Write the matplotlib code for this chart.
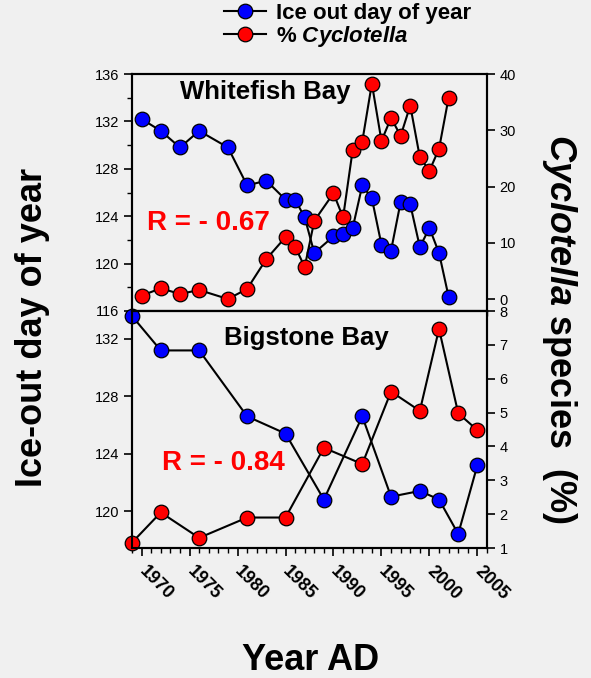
import matplotlib
matplotlib.use('Agg')
import matplotlib.pyplot as plt
from matplotlib.lines import Line2D
from matplotlib.ticker import MultipleLocator, FixedLocator

plt.rcParams['font.family'] = ['Liberation Sans', 'DejaVu Sans']
plt.rcParams['mathtext.fontset'] = 'custom'
plt.rcParams['mathtext.rm'] = 'Liberation Sans'
plt.rcParams['mathtext.it'] = 'Liberation Sans:italic'
plt.rcParams['mathtext.bf'] = 'Liberation Sans:bold'
plt.rcParams['mathtext.bfit'] = 'Liberation Sans:bold:italic'

# ---------------- data ----------------
wf_years = [1970, 1972, 1974, 1976, 1979, 1981, 1983, 1985, 1986, 1987, 1988, 1990,
            1991, 1992, 1993, 1994, 1995, 1996, 1997, 1998, 1999, 2000, 2001, 2002]
wf_iceout = [132.2, 131.2, 129.8, 131.2, 129.8, 126.6, 127.0, 125.4, 125.4, 123.9, 120.9, 122.3,
             122.5, 123.0, 126.6, 125.5, 121.6, 121.1, 125.2, 125.0, 121.4, 123.0, 120.9, 117.2]
wf_cyclo = [0.6, 1.9, 0.9, 1.6, 0.0, 1.8, 7.1, 11.0, 9.3, 5.7, 13.9, 18.8,
            14.5, 26.5, 28.0, 38.3, 28.1, 32.2, 29.0, 34.4, 25.2, 22.8, 26.7, 35.8]

bb_years = [1969, 1972, 1976, 1981, 1985, 1989, 1993, 1996, 1999, 2001, 2003, 2005]
bb_iceout = [133.6, 131.2, 131.2, 126.6, 125.4, 120.8, 126.6, 121.0, 121.4, 120.8, 118.4, 123.2]
bb_cyclo = [1.16, 2.05, 1.3, 1.9, 1.9, 3.96, 3.48, 5.62, 5.05, 7.47, 4.98, 4.48]

x_ticks = [1970, 1975, 1980, 1985, 1990, 1995, 2000, 2005]
wf_left_ticks = [116, 120, 124, 128, 132, 136]
wf_right_ticks = [0, 10, 20, 30, 40]
bb_left_ticks = [120, 124, 128, 132]
bb_right_ticks = [1, 2, 3, 4, 5, 6, 7, 8]

# ---------------- style ----------------
BG = '#f0f0f0'
BLUE = '#0000ff'
RED = '#ff0000'
MS = 10.5
LW = 1.5
SPW = 1.5

fig = plt.figure(figsize=(5.91, 6.78), dpi=100, facecolor=BG)
L, W = 132 / 591, (487 - 132) / 591
H = 237 / 678
ax1 = fig.add_axes([L, 1 - 311 / 678, W, H], facecolor=BG)
ax2 = fig.add_axes([L, 1 - 548 / 678, W, H], facecolor=BG)
ax1r = ax1.twinx()
ax2r = ax2.twinx()

line_kw = dict(color='black', lw=LW, marker='o', ms=MS, mec='black', mew=0.9, clip_on=False)

ax1.plot(wf_years, wf_iceout, mfc=BLUE, **line_kw)
ax1r.plot(wf_years, wf_cyclo, mfc=RED, **line_kw)
ax2.plot(bb_years, bb_iceout, mfc=BLUE, **line_kw)
ax2r.plot(bb_years, bb_cyclo, mfc=RED, **line_kw)

for ax in (ax1, ax2):
    ax.set_xlim(1969, 2006)
    ax.xaxis.set_major_locator(FixedLocator(x_ticks))
    ax.xaxis.set_minor_locator(MultipleLocator(1))
    ax.tick_params(axis='x', which='major', direction='out', length=6, width=1.2,
                   top=False, bottom=True)
    ax.tick_params(axis='x', which='minor', direction='out', length=3.5, width=1.0,
                   top=False, bottom=True)
    ax.tick_params(axis='y', which='major', direction='out', length=6, width=1.2,
                   labelsize=10.5, pad=3)
    ax.tick_params(axis='y', which='minor', direction='out', length=3.5, width=1.0)

ax1.set_ylim(116, 136)
ax1.yaxis.set_major_locator(FixedLocator(wf_left_ticks))
ax1.yaxis.set_minor_locator(MultipleLocator(2))
ax1.tick_params(axis='x', labelbottom=False)

ax2.set_ylim(117.42, 133.95)
ax2.yaxis.set_major_locator(FixedLocator(bb_left_ticks))
ax2.yaxis.set_minor_locator(FixedLocator([]))

ax1r.set_ylim(-2.13, 40)
ax1r.yaxis.set_major_locator(FixedLocator(wf_right_ticks))
ax2r.set_ylim(1, 8)
ax2r.yaxis.set_major_locator(FixedLocator(bb_right_ticks))
for axr in (ax1r, ax2r):
    axr.tick_params(axis='y', which='major', direction='out', length=6, width=1.2,
                    labelsize=10.5, pad=3)

for ax in (ax1, ax2, ax1r, ax2r):
    for s in ax.spines.values():
        s.set_linewidth(SPW)

ax2.set_xticklabels([str(y) for y in x_ticks], rotation=-45, rotation_mode='anchor',
                    ha='left', va='center', fontsize=13, fontweight='bold')
ax2.tick_params(axis='x', which='major', pad=9)

# panel texts
ax1.text(0.375, 0.895, 'Whitefish Bay', transform=ax1.transAxes, ha='center',
         va='baseline', fontsize=18.5, fontweight='bold')
ax2.text(0.49, 0.857, 'Bigstone Bay', transform=ax2.transAxes, ha='center',
         va='baseline', fontsize=18.5, fontweight='bold')
ax1.text(0.042, 0.342, 'R = - 0.67', transform=ax1.transAxes, ha='left',
         va='baseline', fontsize=20, fontweight='bold', color=RED)
ax2.text(0.0845, 0.329, 'R = - 0.84', transform=ax2.transAxes, ha='left',
         va='baseline', fontsize=20, fontweight='bold', color=RED)

# axis titles
fig.text(33 / 591, 1 - 327 / 678, 'Ice-out day of year', rotation=90, ha='center',
         va='center', fontsize=26, fontweight='bold')
fig.text(560 / 591, 1 - 329 / 678, r'$\mathbfit{Cyclotella}$ species  (%)', rotation=-90,
         ha='center', va='center', fontsize=26, fontweight='bold')
fig.text(311 / 591, 1 - 660 / 678, 'Year AD', ha='center', va='center',
         fontsize=26, fontweight='bold')

# legend
handles = [
    Line2D([], [], color='black', lw=LW, marker='o', ms=MS, mfc=BLUE, mec='black', mew=0.9),
    Line2D([], [], color='black', lw=LW, marker='o', ms=MS, mfc=RED, mec='black', mew=0.9),
]
labels = ['Ice out day of year', r'% $\mathbfit{Cyclotella}$']
fig.legend(handles, labels, loc='upper left', bbox_to_anchor=(224 / 591, 1 - 3 / 678),
           frameon=False, handlelength=1.9, handletextpad=0.45, labelspacing=0.0,
           borderpad=0, borderaxespad=0,
           prop={'size': 16, 'weight': 'bold'})

fig.savefig('out.png', dpi=100, facecolor=BG)
